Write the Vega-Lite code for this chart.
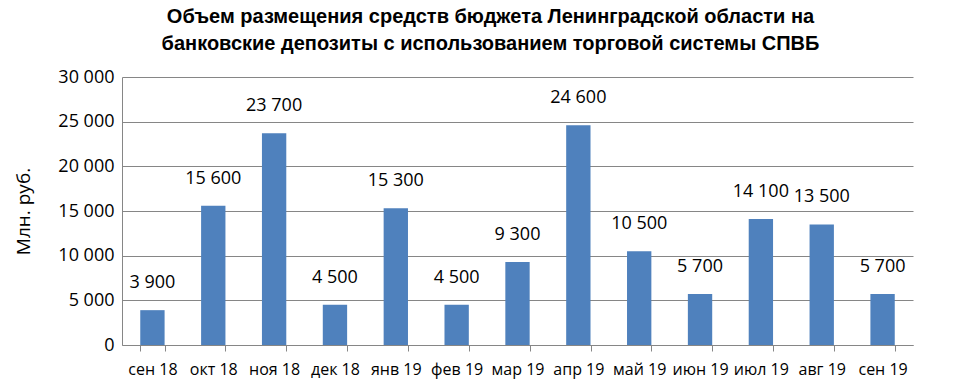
{
  "$schema": "https://vega.github.io/schema/vega-lite/v6.json",
  "autosize": "none",
  "width": 791,
  "height": 268,
  "padding": {"left": 122, "top": 77, "right": 60, "bottom": 46},
  "title": {
    "text": ["Объем размещения средств бюджета Ленинградской области на", "банковские депозиты с  использованием торговой системы СПВБ"],
    "font": "Liberation Sans",
    "fontSize": 20,
    "fontWeight": "bold",
    "color": "#000000",
    "anchor": "middle",
    "frame": "group",
    "dx": -27,
    "offset": 14,
    "lineHeight": 27
  },
  "config": {
    "locale": {"number": {"decimal": ",", "thousands": " ", "grouping": [3], "currency": ["", ""]}},
    "view": {"stroke": null},
    "font": "Open Sans"
  },
  "data": {
    "values": [
      {"month": "сен 18", "value": 3900},
      {"month": "окт 18", "value": 15600},
      {"month": "ноя 18", "value": 23700},
      {"month": "дек 18", "value": 4500},
      {"month": "янв 19", "value": 15300},
      {"month": "фев 19", "value": 4500},
      {"month": "мар 19", "value": 9300},
      {"month": "апр 19", "value": 24600},
      {"month": "май 19", "value": 10500},
      {"month": "июн 19", "value": 5700},
      {"month": "июл 19", "value": 14100},
      {"month": "авг 19", "value": 13500},
      {"month": "сен 19", "value": 5700}
    ]
  },
  "encoding": {
    "x": {
      "field": "month", "type": "ordinal", "sort": null,
      "scale": {"paddingInner": 0.6, "paddingOuter": 0.3},
      "axis": {
        "title": null, "labelAngle": 0, "labelFontSize": 16, "labelColor": "#000000",
        "labelPadding": 10, "domainColor": "#868686", "tickColor": "#868686",
        "tickBand": "extent", "tickSize": 6, "grid": false
      }
    },
    "y": {
      "field": "value", "type": "quantitative",
      "scale": {"domain": [0, 30000], "nice": false},
      "axis": {
        "title": "Млн. руб.", "titleFontSize": 19, "titleFontWeight": "normal", "titleColor": "#000000",
        "titlePadding": 24,
        "values": [0, 5000, 10000, 15000, 20000, 25000, 30000],
        "format": ",.0f", "labelFontSize": 18, "labelColor": "#000000", "labelPadding": 8,
        "domainColor": "#868686", "ticks": false, "gridColor": "#868686", "gridOpacity": 1
      }
    }
  },
  "layer": [
    {"mark": {"type": "bar", "color": "#4F81BD"}},
    {
      "mark": {"type": "text", "baseline": "bottom", "dy": -18, "fontSize": 18, "color": "#000000"},
      "encoding": {"text": {"field": "value", "type": "quantitative", "format": ",.0f"}}
    }
  ]
}
